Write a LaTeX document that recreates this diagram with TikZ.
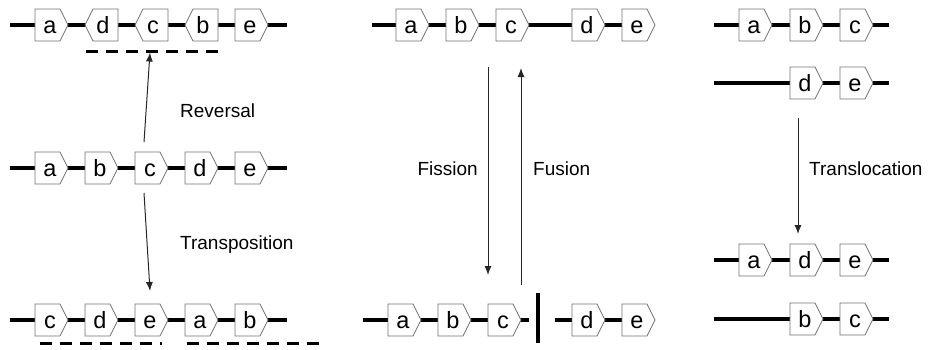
\documentclass[tikz,border=0pt]{standalone}
\usepackage{fontspec}
\setmainfont{Liberation Sans}
\usetikzlibrary{arrows.meta}
\tikzset{
  chrom/.style={line width=4pt, black},
  boxst/.style={draw=black!55, line width=0.8pt, fill=white},
  gtext/.style={font=\fontsize{23.5}{26}\selectfont, inner sep=0pt, anchor=base},
  arr/.style={draw=black!85, line width=1pt, -{Latex[length=9pt,width=7pt]}},
  lbl/.style={font=\fontsize{19}{22}\selectfont, inner sep=0pt},
  dashline/.style={line width=3pt, black, dash pattern=on 12pt off 8pt},
  breakbar/.style={line width=4pt, black}
}
% forward gene box: name, left x, line y, label
\newcommand\gF[4]{%
  \filldraw[boxst] (#2,#3-16) -- (#2+25,#3-16) -- (#2+33,#3) -- (#2+25,#3+16) -- (#2,#3+16) -- cycle;
  \node[gtext] (#1) at (#2+15,#3+8) {#4};}
% reversed gene box: name, left x (tip), line y, label
\newcommand\gR[4]{%
  \filldraw[boxst] (#2,#3) -- (#2+8,#3-16) -- (#2+33,#3-16) -- (#2+33,#3+16) -- (#2+8,#3+16) -- cycle;
  \node[gtext] (#1) at (#2+18,#3+8) {#4};}
\begin{document}
\begin{tikzpicture}[x=1pt,y=-1pt]
\useasboundingbox (0,0) rectangle (931,349);
% ---------- chromosome lines ----------
\coordinate (l1s) at (10,25);   \coordinate (l1e) at (287,25);
\coordinate (l2s) at (10,168);  \coordinate (l2e) at (287,168);
\coordinate (l3s) at (10,320);  \coordinate (l3e) at (287,320);
\coordinate (m1s) at (372,25);  \coordinate (m1e) at (640,25);
\coordinate (m2s) at (363,320); \coordinate (m2e) at (529,320);
\coordinate (m3s) at (555,320); \coordinate (m3e) at (640,320);
\coordinate (r1s) at (714,25);  \coordinate (r1e) at (889,25);
\coordinate (r2s) at (714,83);  \coordinate (r2e) at (889,83);
\coordinate (r3s) at (714,260); \coordinate (r3e) at (889,260);
\coordinate (r4s) at (714,319); \coordinate (r4e) at (889,319);
\foreach \s/\e in {l1s/l1e,l2s/l2e,l3s/l3e,m1s/m1e,m2s/m2e,m3s/m3e,r1s/r1e,r2s/r2e,r3s/r3e,r4s/r4e}
  \draw[chrom] (\s) -- (\e);
% break bar
\coordinate (bt) at (538,293); \coordinate (bb) at (538,343);
\draw[breakbar] (bt) -- (bb);
% ---------- left column ----------
\gF{a1}{35}{25}{a} \gR{d1}{85}{25}{d} \gR{c1}{135}{25}{c} \gR{b1}{185}{25}{b} \gF{e1}{235}{25}{e}
\gF{a2}{35}{168}{a} \gF{b2}{85}{168}{b} \gF{c2}{135}{168}{c} \gF{d2}{185}{168}{d} \gF{e2}{235}{168}{e}
\gF{c3}{35}{320}{c} \gF{d3}{85}{320}{d} \gF{e3}{135}{320}{e} \gF{a3}{185}{320}{a} \gF{b3}{235}{320}{b}
\coordinate (ds1) at (86,51);  \coordinate (de1) at (220,51);
\coordinate (ds2) at (40,343); \coordinate (de2) at (162,343);
\coordinate (ds3) at (187,343); \coordinate (de3) at (320,343);
\draw[dashline] (ds1) -- (de1);
\draw[dashline] (ds2) -- (de2);
\draw[dashline] (ds3) -- (de3);
\coordinate (revS) at (144,142); \coordinate (revE) at (150,52.5);
\coordinate (trS) at (144,193);  \coordinate (trE) at (150,291);
\draw[arr] (revS) -- (revE);
\draw[arr] (trS) -- (trE);
\node[lbl, anchor=base west] (rev) at (180,117) {Reversal};
\node[lbl, anchor=base west] (trp) at (180,249) {Transposition};
% ---------- middle column ----------
\gF{ma1}{396}{25}{a} \gF{mb1}{446}{25}{b} \gF{mc1}{496}{25}{c} \gF{md1}{572}{25}{d} \gF{me1}{622}{25}{e}
\gF{ma2}{388}{320}{a} \gF{mb2}{438}{320}{b} \gF{mc2}{488}{320}{c} \gF{md2}{572}{320}{d} \gF{me2}{622}{320}{e}
\coordinate (fiS) at (488,67);  \coordinate (fiE) at (488,275);
\coordinate (fuS) at (521,285); \coordinate (fuE) at (521,68);
\draw[arr] (fiS) -- (fiE);
\draw[arr] (fuS) -- (fuE);
\node[lbl, anchor=base east] (fis) at (478,175) {Fission};
\node[lbl, anchor=base west] (fus) at (533,175) {Fusion};
% ---------- right column ----------
\gF{ra1}{739}{25}{a} \gF{rb1}{790}{25}{b} \gF{rc1}{840}{25}{c}
\gF{rd2}{790}{83}{d} \gF{re2}{840}{83}{e}
\gF{ra3}{739}{260}{a} \gF{rd3}{790}{260}{d} \gF{re3}{840}{260}{e}
\gF{rb4}{790}{319}{b} \gF{rc4}{840}{319}{c}
\coordinate (tlS) at (798,118); \coordinate (tlE) at (798,234);
\draw[arr] (tlS) -- (tlE);
\node[lbl, anchor=base west] (tl) at (809,175) {Translocation};
\end{tikzpicture}
\end{document}
